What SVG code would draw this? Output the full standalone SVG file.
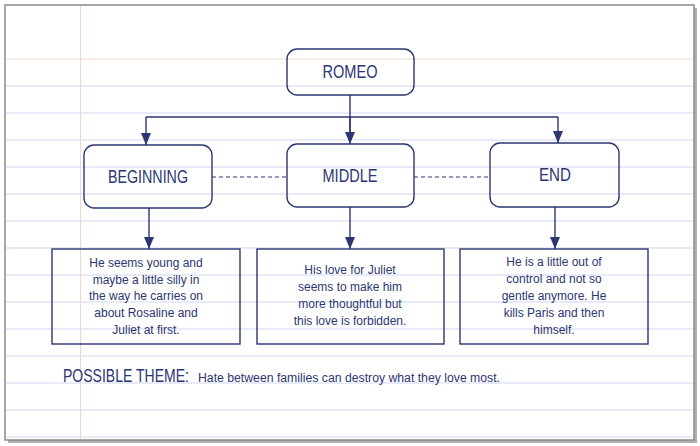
<svg xmlns="http://www.w3.org/2000/svg" width="700" height="446" viewBox="0 0 700 446">
<defs>
<marker id="ah" viewBox="0 0 10 12" refX="5" refY="12" markerWidth="10" markerHeight="12" markerUnits="userSpaceOnUse" orient="0">
<path d="M0,0 L10,0 L5,12 Z" fill="#2b3673"/>
</marker>
<style>
.rule{stroke:#d3d6f0;stroke-width:1}
.node{fill:none;stroke:#2b3673;stroke-width:1.4}
.title{font-family:"Liberation Sans","DejaVu Sans",sans-serif;font-size:18.5px;fill:#2b3673;text-anchor:middle}
.body{font-family:"Liberation Sans","DejaVu Sans",sans-serif;font-size:12px;fill:#2b3673;text-anchor:middle}
.conn{fill:none;stroke:#2b3673;stroke-width:1.4}
.dash{fill:none;stroke:#2b3673;stroke-width:1;stroke-dasharray:4,3}
</style>
</defs>
<rect x="0" y="0" width="700" height="446" fill="#ffffff"/>
<rect x="8" y="8" width="689" height="435" fill="#b0b0b0"/>
<rect x="5" y="5" width="689" height="435" fill="#ffffff" stroke="#8a8a8a" stroke-width="1.5"/>
<g id="paper">
<line x1="6" y1="59" x2="693" y2="59" stroke="#f3d6d0" stroke-width="1"/>
<line class="rule" x1="6" y1="86" x2="693" y2="86"/>
<line class="rule" x1="6" y1="113" x2="693" y2="113"/>
<line class="rule" x1="6" y1="140" x2="693" y2="140"/>
<line class="rule" x1="6" y1="167" x2="693" y2="167"/>
<line class="rule" x1="6" y1="194" x2="693" y2="194"/>
<line class="rule" x1="6" y1="221" x2="693" y2="221"/>
<line class="rule" x1="6" y1="248" x2="693" y2="248"/>
<line class="rule" x1="6" y1="275" x2="693" y2="275"/>
<line class="rule" x1="6" y1="302" x2="693" y2="302"/>
<line class="rule" x1="6" y1="329" x2="693" y2="329"/>
<line class="rule" x1="6" y1="356" x2="693" y2="356"/>
<line class="rule" x1="6" y1="383" x2="693" y2="383"/>
<line class="rule" x1="6" y1="410" x2="693" y2="410"/>
<line class="rule" x1="6" y1="437" x2="693" y2="437"/>
<line x1="80.5" y1="6" x2="80.5" y2="439" stroke="#f7d3cc" stroke-width="1"/>
</g>
<g id="connectors">
<path class="conn" d="M350,95 V133"/>
<path class="conn" d="M146,117 H558"/>
<path class="conn" d="M146,117 V145" marker-end="url(#ah)"/>
<path class="conn" d="M350,117 V144" marker-end="url(#ah)"/>
<path class="conn" d="M558,117 V143" marker-end="url(#ah)"/>
<path class="conn" d="M149,208 V249" marker-end="url(#ah)"/>
<path class="conn" d="M350,207 V249" marker-end="url(#ah)"/>
<path class="conn" d="M555,207 V249" marker-end="url(#ah)"/>
<path class="dash" d="M212,177 H287"/>
<path class="dash" d="M414,177 H490"/>
</g>
<g id="romeo">
<rect class="node" x="287" y="49" width="127" height="46" rx="10"/>
<text class="title" x="350" y="78" textLength="55" lengthAdjust="spacingAndGlyphs">ROMEO</text>
</g>
<g id="beginning">
<rect class="node" x="84" y="145" width="128" height="63" rx="10"/>
<text class="title" x="148" y="183" textLength="80" lengthAdjust="spacingAndGlyphs">BEGINNING</text>
</g>
<g id="middle">
<rect class="node" x="287" y="144" width="127" height="63" rx="10"/>
<text class="title" x="350" y="182" textLength="55" lengthAdjust="spacingAndGlyphs">MIDDLE</text>
</g>
<g id="end">
<rect class="node" x="490" y="143" width="129" height="64" rx="10"/>
<text class="title" x="555" y="181" textLength="32" lengthAdjust="spacingAndGlyphs">END</text>
</g>
<g id="beginning-note">
<rect class="node" x="52" y="249" width="188" height="95"/>
<text class="body" x="146" y="267">He seems young and</text>
<text class="body" x="146" y="284">maybe a little silly in</text>
<text class="body" x="146" y="300">the way he carries on</text>
<text class="body" x="146" y="317">about Rosaline and</text>
<text class="body" x="146" y="334">Juliet at first.</text>
</g>
<g id="middle-note">
<rect class="node" x="257" y="249" width="187" height="95"/>
<text class="body" x="350" y="274">His love for Juliet</text>
<text class="body" x="350" y="291">seems to make him</text>
<text class="body" x="350" y="308">more thoughtful but</text>
<text class="body" x="350" y="325">this love is forbidden.</text>
</g>
<g id="end-note">
<rect class="node" x="460" y="249" width="188" height="95"/>
<text class="body" x="554" y="266">He is a little out of</text>
<text class="body" x="554" y="283">control and not so</text>
<text class="body" x="554" y="300">gentle anymore. He</text>
<text class="body" x="554" y="317">kills Paris and then</text>
<text class="body" x="554" y="334">himself.</text>
</g>
<g id="theme">
<text transform="translate(63,382) scale(0.78,1)" x="0" y="0" font-family="'Liberation Sans','DejaVu Sans',sans-serif" font-size="18" fill="#2b3673">POSSIBLE THEME:</text>
<text x="198" y="382" font-family="'Liberation Sans','DejaVu Sans',sans-serif" font-size="12.5" fill="#2b3673" textLength="302" lengthAdjust="spacingAndGlyphs">Hate between families can destroy what they love most.</text>
</g>
</svg>
